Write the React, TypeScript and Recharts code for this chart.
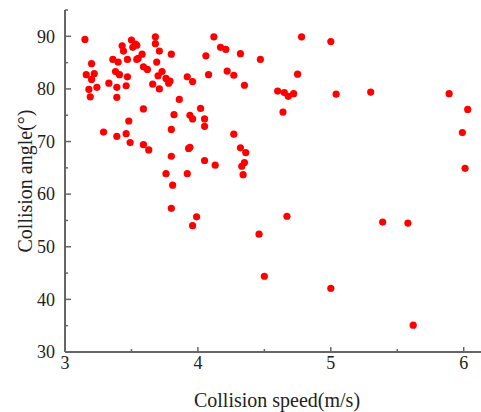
import React from 'react';
import { ScatterChart, Scatter, XAxis, YAxis } from 'recharts';

// collision speed (m/s) and collision angle (deg), read point by point
const speeds = [
  3.15, 3.2, 3.16, 3.22, 3.2, 3.18, 3.24, 3.19, 3.33, 3.36,
  3.4, 3.38, 3.41, 3.39, 3.39, 3.47, 3.46, 3.43, 3.44, 3.5,
  3.47, 3.51, 3.53, 3.54, 3.54, 3.55, 3.58, 3.59, 3.62, 3.68,
  3.68, 3.71, 3.69, 3.73, 3.7, 3.76, 3.79, 3.78, 3.66, 3.71,
  3.8, 3.86, 3.59, 3.82, 3.94, 3.96, 3.48, 3.29, 3.39, 3.46,
  3.49, 3.59, 3.63, 3.8, 3.8, 3.93, 3.94, 3.92, 3.96, 4.02,
  4.05, 4.05, 4.06, 4.08, 4.12, 4.17, 4.21, 4.22, 4.27, 4.32,
  4.35, 4.27, 4.32, 4.36, 4.05, 4.13, 4.35, 4.33, 4.34, 4.47,
  4.78, 5.0, 4.75, 4.6, 4.65, 4.68, 4.72, 4.64, 5.04, 5.3,
  5.89, 6.03, 5.99, 6.01, 3.76, 3.92, 3.81, 3.8, 3.99, 3.96,
  4.46, 4.5, 4.67, 5.39, 5.58, 5.0, 5.62,
];

const angles = [
  89.4, 84.8, 82.7, 82.9, 81.8, 79.9, 80.3, 78.5, 81.1, 85.6,
  85.1, 83.3, 82.7, 80.3, 78.4, 82.3, 80.6, 88.2, 87.2, 89.3,
  85.6, 87.9, 88.5, 88.3, 85.6, 85.8, 86.6, 84.2, 83.7, 89.9,
  88.6, 87.2, 85.1, 83.3, 82.5, 82.0, 81.5, 81.1, 80.9, 80.0,
  86.6, 78.0, 76.2, 75.1, 75.0, 74.3, 73.9, 71.8, 71.0, 71.5,
  69.8, 69.4, 68.4, 72.3, 67.2, 68.7, 68.9, 82.3, 81.4, 76.3,
  74.3, 72.9, 86.3, 82.7, 89.9, 87.9, 87.5, 83.4, 82.6, 86.7,
  80.7, 71.4, 68.8, 67.9, 66.4, 65.5, 66.0, 65.3, 63.7, 85.6,
  89.9, 89.0, 82.8, 79.6, 79.3, 78.6, 79.1, 75.6, 79.0, 79.4,
  79.1, 76.1, 71.7, 64.9, 63.9, 63.9, 61.7, 57.3, 55.7, 54.0,
  52.4, 44.4, 55.8, 54.7, 54.5, 42.1, 35.1,
];

const xTicks = [3, 3.5, 4, 4.5, 5, 5.5, 6];
const yTicks = [30, 35, 40, 45, 50, 55, 60, 65, 70, 75, 80, 85, 90, 95];

const points = speeds.map((s, i) => ({ speed: s, angle: angles[i] }));

const AXIS = '#666';
const FONT = '"Liberation Serif", "Times New Roman", serif';

const XTick = ({ x, y, payload }: any) => {
  const major = Number.isInteger(payload.value);
  return (
    <g>
      <line x1={x} x2={x} y1={y} y2={y - (major ? 5 : 3)} stroke={AXIS} strokeWidth={1.5} />
      {major && (
        <text x={x} y={y + 4} dy="0.71em" textAnchor="middle" fontSize={18} fontFamily={FONT} fill="#222">
          {payload.value}
        </text>
      )}
    </g>
  );
};

const YTick = ({ x, y, payload }: any) => {
  const major = payload.value % 10 === 0;
  return (
    <g>
      <line x1={x} x2={x + (major ? 6 : 3)} y1={y} y2={y} stroke={AXIS} strokeWidth={1.5} />
      {major && (
        <text x={x - 10} y={y} dy="0.35em" textAnchor="end" fontSize={18} fontFamily={FONT} fill="#222">
          {payload.value}
        </text>
      )}
    </g>
  );
};

const YTitle = ({ viewBox }: any) => {
  const cx = viewBox.x + 25;
  const cy = viewBox.y + viewBox.height / 2;
  return (
    <text x={cx} y={cy} transform={`rotate(-90 ${cx} ${cy})`} textAnchor="middle" dy="0.35em"
      fontSize={20} fontFamily={FONT} fill="#222">
      Collision angle(°)
    </text>
  );
};

const XTitle = ({ viewBox }: any) => {
  const cx = viewBox.x + viewBox.width / 2 + 4;
  return (
    <text x={cx} y={400} textAnchor="middle" dy="0.35em" fontSize={20} fontFamily={FONT} fill="#222">
      Collision speed(m/s)
    </text>
  );
};

const Dot = (props: any) => <circle cx={props.cx} cy={props.cy} r={3.6} fill="#ff0000" />;

export default function App() {
  return (
    <div style={{ position: 'absolute', left: 0, top: 0, background: '#fff' }}>
      <ScatterChart width={481} height={412} margin={{ top: 10, right: 0, bottom: 0, left: 0 }}>
        <XAxis
          type="number"
          dataKey="speed"
          domain={[3, 6.13]}
          ticks={xTicks}
          interval={0}
          height={60}
          tickSize={0}
          tickMargin={0}
          tickLine={false}
          axisLine={{ stroke: AXIS, strokeWidth: 2 }}
          tick={<XTick />}
          allowDataOverflow
          label={<XTitle />}
        />
        <YAxis
          type="number"
          dataKey="angle"
          domain={[30, 95]}
          ticks={yTicks}
          interval={0}
          width={65}
          tickSize={0}
          tickMargin={0}
          tickLine={false}
          axisLine={{ stroke: AXIS, strokeWidth: 2 }}
          tick={<YTick />}
          allowDataOverflow
          label={<YTitle />}
        />
        <Scatter data={points} shape={<Dot />} isAnimationActive={false} />
      </ScatterChart>
    </div>
  );
}
